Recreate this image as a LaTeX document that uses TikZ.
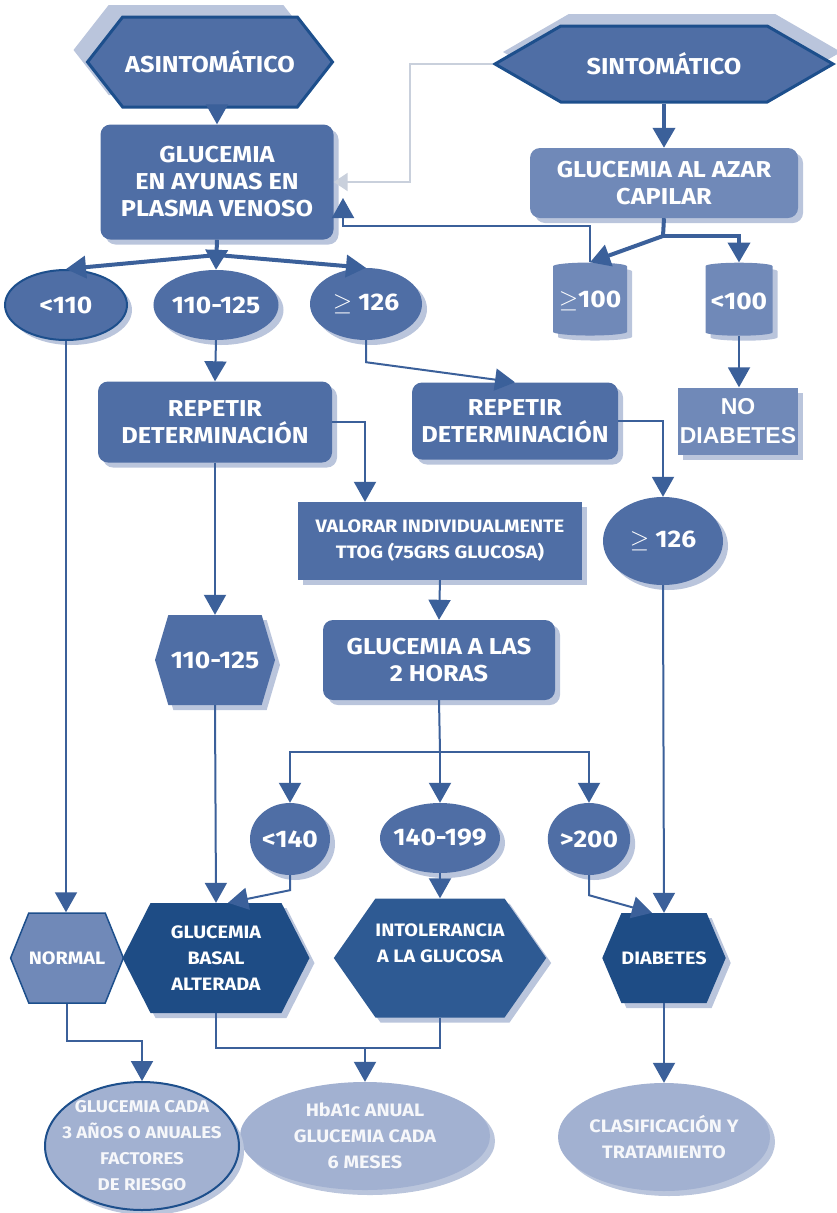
\documentclass[tikz,border=0pt]{standalone}
\usepackage{fontspec}
\setmainfont{Fira Sans}[FakeStretch=1.1]
\newfontfamily\arialfont{Liberation Sans}
\usepackage{tikz}
\usetikzlibrary{positioning, calc, shapes.geometric, shapes.symbols, shadows, arrows.meta}

\definecolor{BoxBlue}{HTML}{4F6EA5}
\definecolor{LiteBlue}{HTML}{7089B8}
\definecolor{PaleBlue}{HTML}{A2B1D1}
\definecolor{DeepBlue}{HTML}{1E4C85}
\definecolor{MidDeep}{HTML}{2E5A93}
\definecolor{LineBlue}{HTML}{3B609A}
\definecolor{EdgeBlue}{HTML}{1D4F8C}
\definecolor{ShadeBlue}{HTML}{BAC5DC}
\definecolor{FeedGray}{HTML}{C9D0DC}

\newcommand{\LblFont}{\bfseries\fontsize{23}{27}\selectfont}
\newcommand{\OvlFont}{\bfseries\fontsize{24}{27}\selectfont}
\newcommand{\SmlFont}{\bfseries\fontsize{18}{26}\selectfont}

\begin{document}
\begin{tikzpicture}[x=1pt, y=-1pt,
        BaseNode/.style={text=white, font=\LblFont, align=center, inner sep=0pt},
        DropShade/.style={general shadow={fill=ShadeBlue, shadow xshift=5pt, shadow yshift=-5pt}},
        BoxNode/.style={BaseNode, rectangle, rounded corners=10pt, fill=BoxBlue, DropShade},
        FlatNode/.style={BaseNode, rectangle, fill=BoxBlue, DropShade},
        OvalNode/.style={BaseNode, ellipse, fill=BoxBlue, font=\OvlFont, DropShade},
        HexNode/.style={BaseNode, signal, signal to=west and east, fill=BoxBlue},
        CanNode/.style={BaseNode, font=\OvlFont, cylinder, shape border rotate=90, aspect=0.12, fill=LiteBlue, DropShade},
        ThinLine/.style={draw=LineBlue, line width=2pt},
        ThickLine/.style={draw=LineBlue, line width=4pt},
        ThinArrow/.style={ThinLine, -{Triangle[width=22pt, length=20pt]}},
        ThickArrow/.style={ThickLine, -{Triangle[width=22pt, length=20pt]}}]

    \useasboundingbox (0,0) rectangle (837,1213);

    % top row
    \node[HexNode, minimum width=245pt, minimum height=90pt, signal pointer angle=104, draw=EdgeBlue, line width=3pt,
        general shadow={fill=ShadeBlue, shadow xshift=-14pt, shadow yshift=12pt}] (asin) at (210,62) {ASINTOMÁTICO};
    \node[HexNode, minimum width=338pt, minimum height=76pt, signal pointer angle=60, draw=EdgeBlue, line width=3pt,
        general shadow={fill=ShadeBlue, shadow xshift=8pt, shadow yshift=12pt}] (sint) at (664,64) {SINTOMÁTICO};

    \node[BoxNode, minimum width=233pt, minimum height=115pt] (ayunas) at (217,182) {GLUCEMIA\\EN AYUNAS EN\\PLASMA VENOSO};
    \node[BoxNode, fill=LiteBlue, minimum width=268pt, minimum height=70pt] (azar) at (664,183) {GLUCEMIA AL AZAR\\CAPILAR};

    \node[CanNode, minimum width=74pt, minimum height=73pt] (geq100) at (590,301) {$\geq$100};
    \node[CanNode, minimum width=67pt, minimum height=73pt] (lt100) at (739,301) {<100};

    % first split
    \node[OvalNode, draw=EdgeBlue, line width=2pt, minimum width=122pt, minimum height=70pt] (lt110) at (66,305) {<110};
    \node[OvalNode, minimum width=122pt, minimum height=70pt] (mid110) at (216,305) {110-125};
    \node[OvalNode, minimum width=112pt, minimum height=72pt] (geq126) at (366,304) {$\geq$ 126};

    \node[BoxNode, minimum width=234pt, minimum height=81pt] (rep1) at (215,422) {REPETIR\\DETERMINACIÓN};
    \node[BoxNode, minimum width=206pt, minimum height=77pt] (rep2) at (515,421) {REPETIR\\DETERMINACIÓN};
    \node[FlatNode, fill=LiteBlue, minimum width=120pt, minimum height=67pt, font=\arialfont\bfseries\fontsize{23}{29}\selectfont] (nodiab) at (738,421) {NO\\DIABETES};

    \node[FlatNode, minimum width=284pt, minimum height=78pt, font=\SmlFont] (valorar) at (440,541) {VALORAR INDIVIDUALMENTE\\TTOG (75GRS GLUCOSA)};
    \node[OvalNode, minimum width=120pt, minimum height=88pt] (geq126b) at (663,541) {$\geq$ 126};

    \node[BoxNode, minimum width=232pt, minimum height=80pt] (horas) at (439,660) {GLUCEMIA A LAS\\2 HORAS};
    \node[HexNode, DropShade, font=\OvlFont, minimum width=120pt, minimum height=90pt, signal pointer angle=147] (hexmid) at (215,660) {110-125};

    % second split
    \node[OvalNode, minimum width=80pt, minimum height=72pt] (lt140) at (290,839) {<140};
    \node[OvalNode, inner xsep=-10pt, minimum width=120pt, minimum height=70pt] (mid140) at (440,838) {140-199};
    \node[OvalNode, minimum width=82pt, minimum height=72pt] (gt200) at (589,839) {>200};

    % results
    \node[HexNode, fill=LiteBlue, draw=EdgeBlue, line width=1.5pt, font=\SmlFont, minimum width=110pt, minimum height=90pt, signal pointer angle=136] (normal) at (67,958) {NORMAL};
    \node[HexNode, DropShade, fill=DeepBlue, font=\SmlFont, minimum width=187pt, minimum height=110pt, signal pointer angle=126] (basal) at (216,958) {GLUCEMIA\\BASAL\\ALTERADA};
    \node[HexNode, DropShade, fill=MidDeep, font=\SmlFont, minimum width=212pt, minimum height=119pt, signal pointer angle=110] (intol) at (440,958) {INTOLERANCIA\\A LA GLUCOSA\\[4pt]};
    \node[HexNode, DropShade, fill=DeepBlue, font=\SmlFont, minimum width=118pt, minimum height=90pt, signal pointer angle=134] (diab) at (664,958) {DIABETES};

    % follow-up
    \node[OvalNode, fill=PaleBlue, text=white!90!PaleBlue, font=\SmlFont, inner xsep=-20pt, inner ysep=-10pt, minimum width=250pt, minimum height=108pt] (hba) at (365,1136) {HbA1c ANUAL\\GLUCEMIA CADA\\6 MESES};
    \node[OvalNode, fill=PaleBlue, text=white!90!PaleBlue, draw=EdgeBlue, line width=2pt, font=\bfseries\fontsize{17}{26}\selectfont, inner xsep=-30pt, inner ysep=-20pt, minimum width=194pt, minimum height=128pt] (cada3) at (142,1146) {GLUCEMIA CADA\\3 AÑOS O ANUALES\\FACTORES\\DE RIESGO};
    \node[OvalNode, fill=PaleBlue, text=white!90!PaleBlue, font=\SmlFont, inner xsep=-20pt, inner ysep=-10pt, minimum width=212pt, minimum height=108pt] (clasif) at (664,1137) {CLASIFICACIÓN Y\\TRATAMIENTO};

    \coordinate (aysplit) at (217,255);
    \coordinate (azsplit) at (663,236);
    \coordinate (backtip) at (343,198);
    \coordinate (hsplit) at (440,752);
    \coordinate (hbajoin) at (365,1048);

    % connectors
    \draw[FeedGray, line width=2pt, -{Triangle[width=18pt, length=14pt]}] (sint.west) -- ++(-82,0) |- (ayunas.east);
    \draw[ThinArrow] (ayunas.north |- asin.south) -- (ayunas.north);
    \draw[ThickArrow] (sint.south) -- (azar.north);
    \draw[ThickLine] (azar.south) -- (azsplit);
    \draw[ThickArrow] (azsplit) -- (geq100.north);
    \draw[ThickArrow] (azsplit) -| (lt100.north);
    \draw[ThinArrow] (geq100.north) -- ++(0,-36) -| (backtip);

    \draw[ThickArrow] (ayunas.south) -- (mid110.north);
    \draw[ThickArrow] (aysplit) -- (lt110.north);
    \draw[ThickArrow] (aysplit) -- (geq126.north);

    \draw[ThinArrow] (mid110.south) -- (rep1.north);
    \draw[ThinArrow] (geq126.south) -- ++(0,22) -- (rep2.north);
    \draw[ThinArrow] (rep1.east) -| ([xshift=-75pt]valorar.north);
    \draw[ThinArrow] (rep2.east) -| (geq126b.north);
    \draw[ThinArrow] (lt100.south) -- (lt100.south |- nodiab.north);
    \draw[ThinArrow] (valorar.south) -- (horas.north);
    \draw[ThinArrow] (rep1.south) -- (hexmid.north);
    \draw[ThinArrow] (hexmid.south) -- (basal.north);
    \draw[ThinArrow] (lt110.south) -- (lt110.south |- normal.north);

    \draw[ThinLine] (horas.south) -- (hsplit);
    \draw[ThinArrow] (hsplit) -| (lt140.north);
    \draw[ThinArrow] (hsplit) -- (mid140.north);
    \draw[ThinArrow] (hsplit) -| (gt200.north);

    \draw[ThinArrow] (lt140.south) -- ++(0,15) -- ([xshift=12pt]basal.north);
    \draw[ThinArrow] (mid140.south) -- (intol.north);
    \draw[ThinArrow] (gt200.south) -- ++(0,20) -- ([xshift=-12pt]diab.north);
    \draw[ThinArrow] (geq126b.south) -- (diab.north);

    \draw[ThinArrow] (normal.south) -- ++(0,37) -| (cada3.north);
    \draw[ThinLine] (basal.south) |- (hbajoin) -| (intol.south);
    \draw[ThinArrow] (hbajoin) -- (hba.north);
    \draw[ThinArrow] (diab.south) -- (clasif.north);
\end{tikzpicture}
\end{document}
